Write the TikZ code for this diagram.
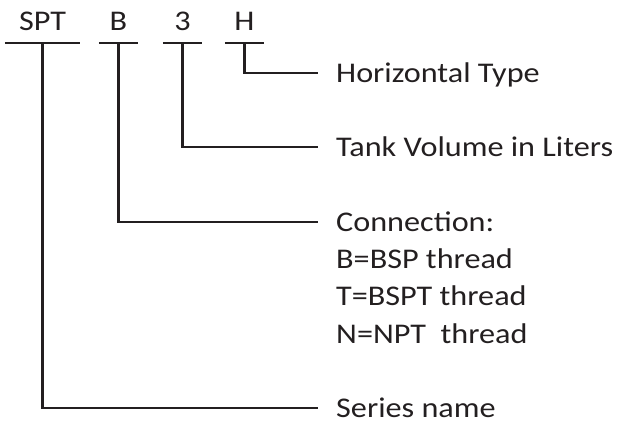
\documentclass[tikz,border=0pt]{standalone}
\usepackage{fontspec}
\setmainfont{Carlito}[FakeStretch=1.13]
\usetikzlibrary{positioning}
\definecolor{ink}{HTML}{231F20}

\begin{document}
\begin{tikzpicture}[x=1pt,y=-1pt,font=\fontsize{28.5}{34}\selectfont,
  code/.style={anchor=south,inner xsep=0pt,inner ysep=12.3pt,text depth=0pt,text=ink},
  desc/.style={anchor=west,inner xsep=18pt,inner ysep=0pt,text height=18pt,text depth=0pt,text=ink},
  wire/.style={draw=ink,line width=2.6pt},
  node distance=19pt]
  \useasboundingbox (0,0) rectangle (619,424);

  % model code letters
  \node[code,minimum width=75pt] (spt) at (42.5,43) {SPT};
  \node[code,minimum width=39pt] (b)   at (118.5,43) {B};
  \node[code,minimum width=39pt] (v)   at (182.5,43) {3};
  \node[code,minimum width=39pt] (h)   at (244.5,43) {H};

  % meanings
  \node[desc] (horiz)  at (318,73)  {Horizontal Type};
  \node[desc] (tank)   at (318,147) {Tank Volume in Liters};
  \node[desc] (conn)   at (318,222) {Connection:};
  \node[desc,below right=19pt and 0pt of conn.south west]  (bsp)  {B=BSP thread};
  \node[desc,below right=19pt and 0pt of bsp.south west]   (bspt) {T=BSPT thread};
  \node[desc,below right=19pt and 0pt of bspt.south west]  (npt)  {N=NPT\ \ thread};
  \node[desc] (series) at (318,408) {Series name};

  \foreach \n in {spt,b,v,h}
    \draw[wire] (\n.south west) -- (\n.south east);

  \draw[wire] (h.south)   |- (horiz.west);
  \draw[wire] (v.south)   |- (tank.west);
  \draw[wire] (b.south)   |- (conn.west);
  \draw[wire] (spt.south) |- (series.west);
\end{tikzpicture}
\end{document}
